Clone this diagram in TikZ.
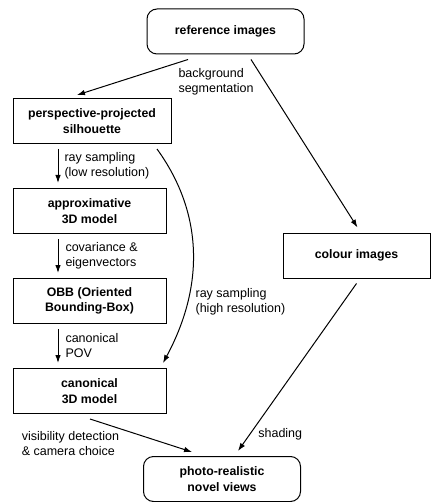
\documentclass[tikz,border=0pt]{standalone}
\usepackage{fontspec}
\setmainfont{Liberation Sans}
\usetikzlibrary{arrows.meta,positioning}

\begin{document}
\begin{tikzpicture}[x=1pt,y=1pt,node distance=44pt,font=\fontsize{12.5}{15}\selectfont]
  \tikzstyle{stage}=[rectangle,draw,line width=1pt,minimum width=153pt,minimum height=45pt,align=center,font=\fontsize{12.3}{15.5}\selectfont\bfseries]
  \tikzstyle{ends}=[stage,rounded corners=10pt,minimum width=157pt]
  \tikzstyle{lbl}=[align=left,inner sep=2pt]
  \tikzstyle{arr}=[-{Latex[length=8pt,width=5.5pt]},line width=1pt]
  \useasboundingbox (0,0) rectangle (431,-502);
  \node[ends] (ref) at (225.5,-31.5) {reference images};
  \node[stage,minimum width=158pt] (persp) at (92,-121) {perspective-projected\\silhouette};
  \node[stage,below=of persp.south west,anchor=north west] (approx) {approximative\\3D model};
  \node[stage,below=of approx] (obb) {OBB (Oriented\\Bounding-Box)};
  \node[stage,below=of obb] (canon) {canonical\\3D model};
  \node[stage,minimum width=147pt] (colour) at (356.5,-255.5) {colour images};
  \node[ends] (photo) at (222,-479) {photo-realistic\\novel views};
  % left column
  \draw[arr] ([xshift=-37.5pt,yshift=-5pt]ref.south) -- node[lbl,pos=0,anchor=north west,xshift=-12pt,yshift=-6pt]{background\\segmentation} ([xshift=-15pt,yshift=3pt]persp.north);
  \draw[arr] ([xshift=-34pt,yshift=-5pt]persp.south) -- node[lbl,right=4pt]{ray sampling\\(low resolution)} ([xshift=-31.5pt,yshift=5pt]approx.north);
  \draw[arr] ([xshift=-31.5pt,yshift=-5pt]approx.south) -- node[lbl,right=5pt]{covariance \&\\eigenvectors} ([xshift=-31.5pt,yshift=5pt]obb.north);
  \draw[arr] ([xshift=-31.5pt,yshift=-5pt]obb.south) -- node[lbl,right=5pt]{canonical\\POV} ([xshift=-31.5pt,yshift=5pt]canon.north);
  \draw[arr] ([xshift=65pt,yshift=-5pt]persp.south) .. controls (204,-214) and (204,-287) .. node[lbl,pos=0.73,right=6pt]{ray sampling\\(high resolution)} ([xshift=73.5pt,yshift=5pt]canon.north);
  \draw[arr] ([xshift=0.5pt,yshift=-5pt]canon.south) -- node[lbl,pos=0.3,anchor=north east,xshift=1pt]{visibility detection\\\& camera choice} ([xshift=-30pt,yshift=4pt]photo.north);
  % right column
  \draw[arr] ([xshift=25.5pt,yshift=-5pt]ref.south) -- ([xshift=1pt,yshift=5pt]colour.north);
  \draw[arr] ([xshift=0pt,yshift=-5pt]colour.south) -- node[lbl,pos=0.9,right=6pt]{shading} ([xshift=16pt,yshift=5pt]photo.north);
\end{tikzpicture}
\end{document}
